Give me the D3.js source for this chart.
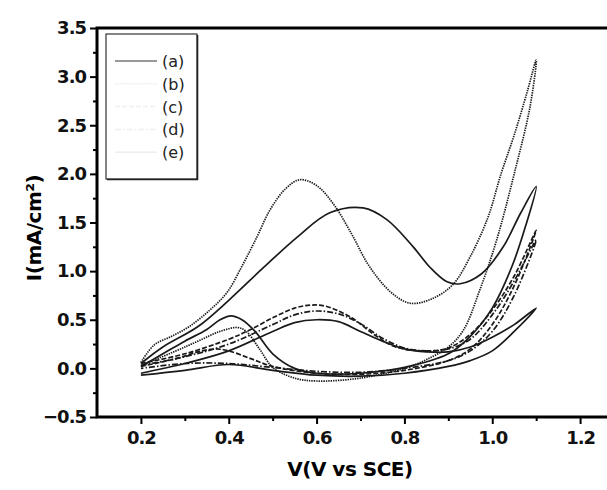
<!DOCTYPE html>
<html>
<head>
<meta charset="utf-8">
<script src="https://cdn.jsdelivr.net/npm/d3@7"></script>
<style>
  body { margin: 0; background: #fff; }
  svg { display: block; }
</style>
</head>
<body>
<div id="canvas"></div>
<script>
// legend labels
const labels = ["(a)", "(b)", "(c)", "(d)", "(e)"];

// each curve: forward sweep 0.2 -> 1.1 V, then reverse sweep back to 0.2 V  [V, mA/cm2]
const curveA = [
  [0.2,0.05],[0.25,0.22],[0.33,0.43],[0.40,0.70],[0.48,1.04],[0.556,1.35],[0.63,1.60],[0.706,1.65],
  [0.76,1.53],[0.82,1.25],[0.858,1.04],[0.897,0.89],[0.927,0.87],[0.975,0.97],[1.025,1.25],[1.065,1.60],[1.1,1.87],
  [1.075,1.45],[1.045,1.05],[1.0,0.62],[0.95,0.33],[0.9,0.15],[0.8,0.01],[0.7,-0.05],[0.6,-0.05],[0.55,0.0],
  [0.5,0.15],[0.46,0.38],[0.43,0.50],[0.405,0.54],[0.38,0.50],[0.35,0.40],[0.30,0.28],[0.25,0.15],[0.2,0.02]
];
const curveB = [
  [0.2,0.06],[0.23,0.24],[0.27,0.33],[0.31,0.43],[0.357,0.60],[0.396,0.78],[0.43,1.05],[0.464,1.35],[0.494,1.63],
  [0.53,1.85],[0.562,1.94],[0.60,1.88],[0.64,1.68],[0.68,1.38],[0.72,1.05],[0.77,0.78],[0.813,0.67],[0.86,0.71],
  [0.91,0.86],[0.95,1.15],[0.99,1.55],[1.02,2.0],[1.05,2.40],[1.08,2.85],[1.1,3.17],
  [1.086,2.69],[1.05,2.0],[1.01,1.32],[0.972,0.81],[0.934,0.39],[0.9,0.22],[0.85,0.09],[0.8,0.0],[0.7,-0.10],
  [0.6,-0.13],[0.55,-0.10],[0.50,0.01],[0.47,0.20],[0.44,0.38],[0.42,0.42],[0.38,0.38],[0.33,0.28],[0.28,0.18],[0.2,0.03]
];
const curveC = [
  [0.2,0.05],[0.3,0.15],[0.4,0.30],[0.45,0.40],[0.5,0.52],[0.55,0.62],[0.585,0.65],[0.62,0.64],[0.68,0.52],
  [0.73,0.35],[0.78,0.22],[0.85,0.18],[0.9,0.21],[0.95,0.35],[1.0,0.60],[1.05,0.95],[1.1,1.42],
  [1.05,0.85],[1.0,0.45],[0.95,0.20],[0.9,0.08],[0.8,-0.02],[0.7,-0.06],[0.6,-0.05],[0.5,0.02],[0.45,0.10],
  [0.4,0.18],[0.37,0.20],[0.33,0.17],[0.28,0.10],[0.2,0.02]
];
const curveD = [
  [0.2,0.03],[0.3,0.12],[0.4,0.25],[0.5,0.45],[0.55,0.55],[0.6,0.59],[0.65,0.56],[0.7,0.46],[0.75,0.31],
  [0.8,0.21],[0.85,0.18],[0.9,0.20],[0.95,0.30],[1.0,0.55],[1.05,0.90],[1.1,1.32],
  [1.05,0.75],[1.0,0.38],[0.95,0.18],[0.9,0.08],[0.8,0.0],[0.7,-0.04],[0.6,-0.03],[0.5,0.01],[0.4,0.05],
  [0.3,0.05],[0.2,0.0]
];
const curveE = [
  [0.2,-0.05],[0.3,0.05],[0.4,0.18],[0.5,0.38],[0.55,0.47],[0.6,0.50],[0.65,0.48],[0.7,0.38],[0.75,0.28],
  [0.8,0.20],[0.85,0.17],[0.9,0.17],[0.95,0.22],[1.0,0.32],[1.05,0.45],[1.1,0.62],
  [1.05,0.38],[1.0,0.18],[0.95,0.08],[0.9,0.02],[0.8,-0.05],[0.7,-0.08],[0.6,-0.07],[0.5,-0.02],[0.4,0.04],
  [0.3,-0.02],[0.2,-0.07]
];

const xMajor = [0.2, 0.4, 0.6, 0.8, 1.0, 1.2];
const xMinor = [0.3, 0.5, 0.7, 0.9, 1.1];
const yMajor = [-0.5, 0.0, 0.5, 1.0, 1.5, 2.0, 2.5, 3.0, 3.5];
const yMinor = [-0.25, 0.25, 0.75, 1.25, 1.75, 2.25, 2.75, 3.25];

const curves = [curveE, curveB, curveC, curveD, curveA];
const dashes = [null, "1.4,1", "5,2", "6,2,1.5,2", null];

const width = 607, height = 490;
const margin = { top: 28, left: 97, bottom: 73, right: -17 };

const svg = d3.select("#canvas").append("svg")
  .attr("width", width).attr("height", height);

const x = d3.scaleLinear().domain([0.1, 1.3]).range([margin.left, width - margin.right]);
const y = d3.scaleLinear().domain([-0.5, 3.5]).range([height - margin.bottom, margin.top]);

const font = "'DejaVu Sans', sans-serif";

// curves
const line = d3.line().x(d => x(d[0])).y(d => y(d[1])).curve(d3.curveCatmullRom.alpha(0.5));
const g = svg.append("g");
curves.forEach((c, i) => {
  g.append("path")
    .attr("d", line(c))
    .attr("fill", "none")
    .attr("stroke", "#1a1a1a")
    .attr("stroke-width", 1.7)
    .attr("stroke-dasharray", dashes[i]);
});

// frame
svg.append("rect")
  .attr("x", x(0.1)).attr("y", y(3.5))
  .attr("width", x(1.3) - x(0.1)).attr("height", y(-0.5) - y(3.5))
  .attr("fill", "none").attr("stroke", "#000").attr("stroke-width", 3);

// axes
svg.append("g")
  .attr("transform", `translate(0,${y(-0.5)})`)
  .call(d3.axisBottom(x).tickValues(xMajor).tickSize(7).tickSizeOuter(0).tickPadding(7).tickFormat(d3.format(".1f")));
svg.append("g")
  .attr("transform", `translate(0,${y(-0.5)})`)
  .call(d3.axisBottom(x).tickValues(xMinor).tickSize(4).tickSizeOuter(0).tickFormat(""));

svg.append("g")
  .attr("transform", `translate(${x(0.1)},0)`)
  .call(d3.axisLeft(y).tickValues(yMajor).tickSize(7).tickSizeOuter(0).tickPadding(4).tickFormat(d3.format(".1f")));
svg.append("g")
  .attr("transform", `translate(${x(0.1)},0)`)
  .call(d3.axisLeft(y).tickValues(yMinor).tickSize(4).tickSizeOuter(0).tickFormat(""));

svg.selectAll(".domain").remove();
svg.selectAll(".tick line").attr("stroke", "#000").attr("stroke-width", 2);
svg.selectAll(".tick text")
  .attr("fill", "#111")
  .style("font-family", font)
  .style("font-weight", "bold")
  .style("font-size", "18px")
  .style("letter-spacing", "-1px");

// axis titles
svg.append("text")
  .attr("x", 350).attr("y", 476)
  .attr("text-anchor", "middle")
  .style("font-family", font).style("font-weight", "bold").style("font-size", "20px")
  .style("letter-spacing", "-0.5px")
  .text("V(V vs SCE)");

svg.append("text")
  .attr("transform", `translate(41,228) rotate(-90)`)
  .attr("text-anchor", "middle")
  .style("font-family", font).style("font-weight", "bold").style("font-size", "20px")
  .style("letter-spacing", "-0.5px")
  .text("I(mA/cm²)");

// legend
const lg = svg.append("g");
lg.append("rect")
  .attr("x", 106).attr("y", 34).attr("width", 91).attr("height", 145)
  .attr("fill", "#fff").attr("stroke", "#333").attr("stroke-width", 1.2);
lg.append("path").attr("d", "M107,179.5H198M197.5,35V180")
  .attr("stroke", "#222").attr("stroke-width", 1.6).attr("fill", "none");
labels.forEach((t, i) => {
  const yy = 61 + i * 22.8;
  lg.append("line")
    .attr("x1", 115).attr("x2", 157).attr("y1", yy).attr("y2", yy)
    .attr("stroke", i === 0 ? "#333" : "#eeeeee")
    .attr("stroke-width", i === 0 ? 1.2 : 1.5)
    .attr("stroke-dasharray", dashes[i]);
  lg.append("text")
    .attr("x", 162).attr("y", yy + 6)
    .style("font-family", font).style("font-size", "16px")
    .attr("fill", "#222")
    .text(t);
});
</script>
</body>
</html>
